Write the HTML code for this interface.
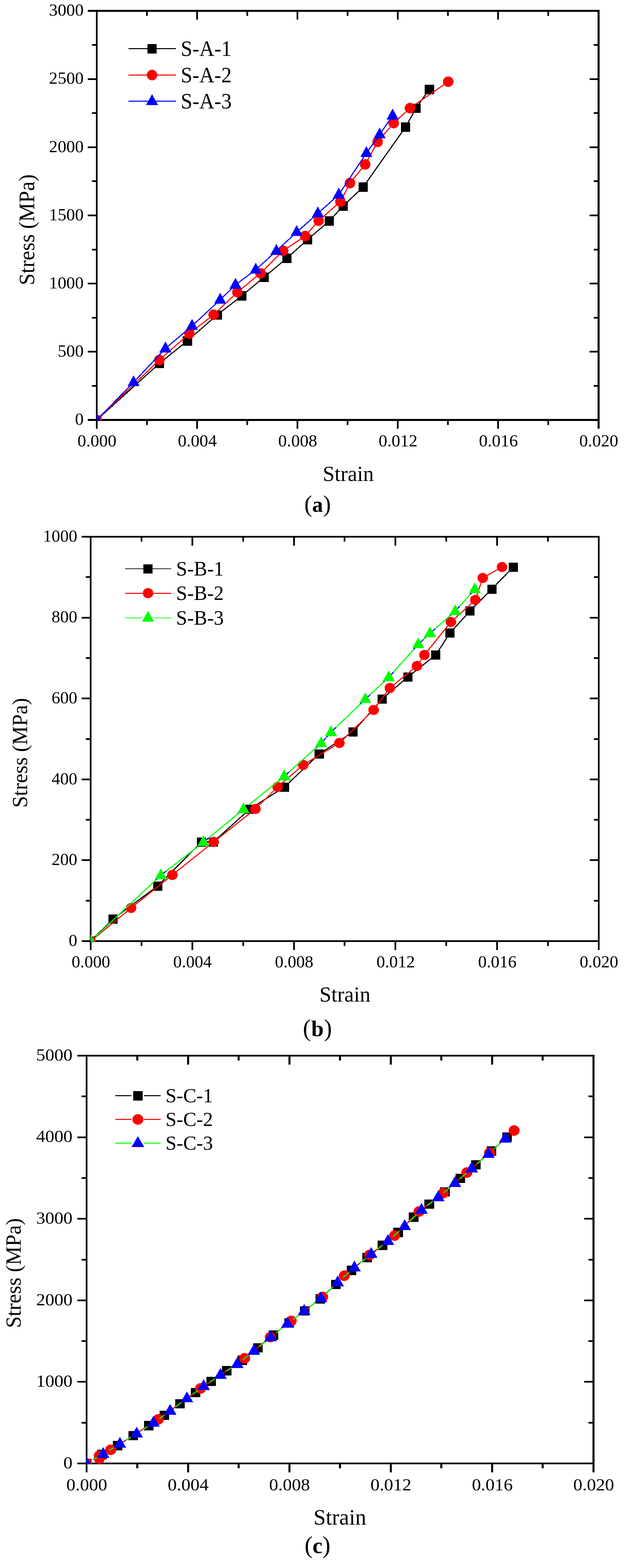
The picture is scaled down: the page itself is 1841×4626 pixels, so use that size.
<!DOCTYPE html>
<html lang="en">
<head>
<meta charset="utf-8">
<title>Stress-strain curves</title>
<style>
html,body{margin:0;padding:0;background:#fff;}
body{width:1841px;height:4626px;overflow:hidden;}
svg{display:block;font-family:"Liberation Serif", "DejaVu Serif", serif;}
text{fill:#000;}
</style>
</head>
<body>
<svg width="1841" height="4626" viewBox="0 0 1841 4626">
<rect width="1841" height="4626" fill="#fff"/>
<g id="chart-a">
<g fill="#000">
<path shape-rendering="crispEdges" d="M283 29H1769V1242H283ZM288 35V1236H1763V35Z"/>
<rect x="283" y="1236" width="5" height="29" rx="1.3"/>
<rect x="431" y="1236" width="5" height="18" rx="1.3"/>
<rect x="431" y="29" width="5" height="18" rx="1.3"/>
<rect x="579" y="1236" width="5" height="29" rx="1.3"/>
<rect x="579" y="29" width="5" height="29" rx="1.3"/>
<rect x="727" y="1236" width="5" height="18" rx="1.3"/>
<rect x="727" y="29" width="5" height="18" rx="1.3"/>
<rect x="875" y="1236" width="5" height="29" rx="1.3"/>
<rect x="875" y="29" width="5" height="29" rx="1.3"/>
<rect x="1023" y="1236" width="5" height="18" rx="1.3"/>
<rect x="1023" y="29" width="5" height="18" rx="1.3"/>
<rect x="1171" y="1236" width="5" height="29" rx="1.3"/>
<rect x="1171" y="29" width="5" height="29" rx="1.3"/>
<rect x="1319" y="1236" width="5" height="18" rx="1.3"/>
<rect x="1319" y="29" width="5" height="18" rx="1.3"/>
<rect x="1467" y="1236" width="5" height="29" rx="1.3"/>
<rect x="1467" y="29" width="5" height="29" rx="1.3"/>
<rect x="1615" y="1236" width="5" height="18" rx="1.3"/>
<rect x="1615" y="29" width="5" height="18" rx="1.3"/>
<rect x="1763" y="1236" width="6" height="29" rx="1.3"/>
<rect x="258.9" y="1236" width="29.1" height="6" rx="1.3"/>
<rect x="271.3" y="1136" width="16.7" height="5" rx="1.3"/>
<rect x="1751.8" y="1136" width="17.2" height="5" rx="1.3"/>
<rect x="258.9" y="1035" width="29.1" height="5" rx="1.3"/>
<rect x="1739.4" y="1035" width="29.6" height="5" rx="1.3"/>
<rect x="271.3" y="935" width="16.7" height="5" rx="1.3"/>
<rect x="1751.8" y="935" width="17.2" height="5" rx="1.3"/>
<rect x="258.9" y="834" width="29.1" height="5" rx="1.3"/>
<rect x="1739.4" y="834" width="29.6" height="5" rx="1.3"/>
<rect x="271.3" y="734" width="16.7" height="5" rx="1.3"/>
<rect x="1751.8" y="734" width="17.2" height="5" rx="1.3"/>
<rect x="258.9" y="633" width="29.1" height="5" rx="1.3"/>
<rect x="1739.4" y="633" width="29.6" height="5" rx="1.3"/>
<rect x="271.3" y="532" width="16.7" height="5" rx="1.3"/>
<rect x="1751.8" y="532" width="17.2" height="5" rx="1.3"/>
<rect x="258.9" y="432" width="29.1" height="5" rx="1.3"/>
<rect x="1739.4" y="432" width="29.6" height="5" rx="1.3"/>
<rect x="271.3" y="331" width="16.7" height="5" rx="1.3"/>
<rect x="1751.8" y="331" width="17.2" height="5" rx="1.3"/>
<rect x="258.9" y="231" width="29.1" height="5" rx="1.3"/>
<rect x="1739.4" y="231" width="29.6" height="5" rx="1.3"/>
<rect x="271.3" y="130" width="16.7" height="5" rx="1.3"/>
<rect x="1751.8" y="130" width="17.2" height="5" rx="1.3"/>
<rect x="258.9" y="29" width="29.1" height="6" rx="1.3"/>
</g>
<clipPath id="clip-a"><rect x="285" y="32" width="1481" height="1208.2"/></clipPath>
<g clip-path="url(#clip-a)" shape-rendering="crispEdges">
<polyline points="285.5,1239 470.2,1072 552.9,1005.4 640.9,929 713.6,872.5 779.3,817.5 846.4,761.9 907.8,706.4 971.8,651.8 1012.7,607.3 1071.7,551.5 1196.7,374.6 1227.5,319 1266.9,263.2" fill="none" stroke="#000" stroke-width="3.3" stroke-linejoin="round"/>
<rect x="271.9" y="1225.6" width="27.1" height="27.7" fill="#000"/>
<rect x="456.6" y="1058.6" width="27.1" height="27.7" fill="#000"/>
<rect x="539.4" y="991.9" width="27.1" height="27.7" fill="#000"/>
<rect x="627.4" y="915.5" width="27.1" height="27.7" fill="#000"/>
<rect x="700.1" y="859" width="27.1" height="27.7" fill="#000"/>
<rect x="765.8" y="804" width="27.1" height="27.7" fill="#000"/>
<rect x="832.9" y="748.4" width="27.1" height="27.7" fill="#000"/>
<rect x="894.2" y="692.9" width="27.1" height="27.7" fill="#000"/>
<rect x="958.2" y="638.3" width="27.1" height="27.7" fill="#000"/>
<rect x="999.2" y="593.8" width="27.1" height="27.7" fill="#000"/>
<rect x="1058.2" y="538" width="27.1" height="27.7" fill="#000"/>
<rect x="1183.2" y="361.1" width="27.1" height="27.7" fill="#000"/>
<rect x="1214" y="305.5" width="27.1" height="27.7" fill="#000"/>
<rect x="1253.4" y="249.8" width="27.1" height="27.7" fill="#000"/>
<polyline points="285.5,1239 470.2,1062.1 558.8,984.1 630.4,928.3 700.3,862 768.6,806.1 835.3,739.8 900.3,696.5 940.1,651 1004.1,595.2 1032.6,540.1 1077.4,485 1114,418.5 1161.6,363.1 1209.6,319 1322.3,241" fill="none" stroke="#f00" stroke-width="3.3" stroke-linejoin="round"/>
<ellipse cx="285.5" cy="1239" rx="15.5" ry="15.6" fill="#f00"/>
<ellipse cx="470.2" cy="1062.1" rx="15.5" ry="15.6" fill="#f00"/>
<ellipse cx="558.8" cy="984.1" rx="15.5" ry="15.6" fill="#f00"/>
<ellipse cx="630.4" cy="928.3" rx="15.5" ry="15.6" fill="#f00"/>
<ellipse cx="700.3" cy="862" rx="15.5" ry="15.6" fill="#f00"/>
<ellipse cx="768.6" cy="806.1" rx="15.5" ry="15.6" fill="#f00"/>
<ellipse cx="835.3" cy="739.8" rx="15.5" ry="15.6" fill="#f00"/>
<ellipse cx="900.3" cy="696.5" rx="15.5" ry="15.6" fill="#f00"/>
<ellipse cx="940.1" cy="651" rx="15.5" ry="15.6" fill="#f00"/>
<ellipse cx="1004.1" cy="595.2" rx="15.5" ry="15.6" fill="#f00"/>
<ellipse cx="1032.6" cy="540.1" rx="15.5" ry="15.6" fill="#f00"/>
<ellipse cx="1077.4" cy="485" rx="15.5" ry="15.6" fill="#f00"/>
<ellipse cx="1114" cy="418.5" rx="15.5" ry="15.6" fill="#f00"/>
<ellipse cx="1161.6" cy="363.1" rx="15.5" ry="15.6" fill="#f00"/>
<ellipse cx="1209.6" cy="319" rx="15.5" ry="15.6" fill="#f00"/>
<ellipse cx="1322.3" cy="241" rx="15.5" ry="15.6" fill="#f00"/>
<polyline points="285.5,1239 394.1,1127.9 488.1,1028 566.6,961.7 649.6,884.4 694.8,840.3 754.5,795.8 815.4,740.4 875.4,684.8 937.8,629.7 999.5,574.3 1081,451.7 1120.2,396.9 1158.4,341.1" fill="none" stroke="#00f" stroke-width="3.3" stroke-linejoin="round"/>
<polygon points="285.5,1218.3 303.3,1250.5 267.7,1250.5" fill="#00f"/>
<polygon points="394.1,1107.2 411.9,1139.4 376.3,1139.4" fill="#00f"/>
<polygon points="488.1,1007.3 505.9,1039.5 470.3,1039.5" fill="#00f"/>
<polygon points="566.6,941 584.4,973.2 548.8,973.2" fill="#00f"/>
<polygon points="649.6,863.7 667.4,895.9 631.8,895.9" fill="#00f"/>
<polygon points="694.8,819.6 712.6,851.8 677,851.8" fill="#00f"/>
<polygon points="754.5,775.1 772.3,807.3 736.7,807.3" fill="#00f"/>
<polygon points="815.4,719.7 833.2,751.9 797.6,751.9" fill="#00f"/>
<polygon points="875.4,664.1 893.2,696.3 857.6,696.3" fill="#00f"/>
<polygon points="937.8,609 955.6,641.2 920,641.2" fill="#00f"/>
<polygon points="999.5,553.6 1017.3,585.8 981.7,585.8" fill="#00f"/>
<polygon points="1081,431 1098.8,463.2 1063.2,463.2" fill="#00f"/>
<polygon points="1120.2,376.2 1138,408.4 1102.4,408.4" fill="#00f"/>
<polygon points="1158.4,320.4 1176.2,352.6 1140.6,352.6" fill="#00f"/>
</g>
<text transform="translate(286.1 1317) scale(1.0120 1)" font-size="50.50" text-anchor="middle">0.000</text>
<text transform="translate(582.2 1317) scale(1.0120 1)" font-size="50.50" text-anchor="middle">0.004</text>
<text transform="translate(878.3 1317) scale(1.0120 1)" font-size="50.50" text-anchor="middle">0.008</text>
<text transform="translate(1174.4 1317) scale(1.0120 1)" font-size="50.50" text-anchor="middle">0.012</text>
<text transform="translate(1470.5 1317) scale(1.0120 1)" font-size="50.50" text-anchor="middle">0.016</text>
<text transform="translate(1766.6 1317) scale(1.0120 1)" font-size="50.50" text-anchor="middle">0.020</text>
<text transform="translate(246.8 1253.2) scale(1.0120 1)" font-size="50.50" text-anchor="end">0</text>
<text transform="translate(246.8 1052) scale(1.0120 1)" font-size="50.50" text-anchor="end">500</text>
<text transform="translate(246.8 850.9) scale(1.0120 1)" font-size="50.50" text-anchor="end">1000</text>
<text transform="translate(246.8 649.7) scale(1.0120 1)" font-size="50.50" text-anchor="end">1500</text>
<text transform="translate(246.8 448.5) scale(1.0120 1)" font-size="50.50" text-anchor="end">2000</text>
<text transform="translate(246.8 247.4) scale(1.0120 1)" font-size="50.50" text-anchor="end">2500</text>
<text transform="translate(246.8 46.2) scale(1.0120 1)" font-size="50.50" text-anchor="end">3000</text>
<text transform="translate(1027.4 1419.4)" font-size="63.00" text-anchor="middle">Strain</text>
<text transform="translate(101 677.9) rotate(-90) scale(0.9720 1)" font-size="64.80" text-anchor="middle">Stress (MPa)</text>
<text y="1510.3" font-size="70"><tspan x="897.8">(</tspan><tspan x="937.1" text-anchor="middle" font-weight="bold" font-size="64">a</tspan><tspan x="976.4" text-anchor="end">)</tspan></text>
<g shape-rendering="crispEdges">
<path d="M378.5 143.5H518.5" stroke="#000" stroke-width="3.3" fill="none"/>
<rect x="435.1" y="130.1" width="27.1" height="27.7" fill="#000"/>
<text transform="translate(533.2 164.5) scale(0.9350 1)" font-size="65.80">S-A-1</text>
<path d="M378.5 221.5H518.5" stroke="#f00" stroke-width="3.3" fill="none"/>
<ellipse cx="448.6" cy="221.5" rx="15.5" ry="15.6" fill="#f00"/>
<text transform="translate(533.2 242.5) scale(0.9350 1)" font-size="65.80">S-A-2</text>
<path d="M378.5 298.5H518.5" stroke="#00f" stroke-width="3.3" fill="none"/>
<polygon points="448.6,277.8 466.4,310 430.8,310" fill="#00f"/>
<text transform="translate(533.2 319.5) scale(0.9350 1)" font-size="65.80">S-A-3</text>
</g>
</g>
<g id="chart-b">
<g fill="#000">
<path shape-rendering="crispEdges" d="M265 1581H1769V2779H265ZM270 1586V2774H1764V1586Z"/>
<rect x="265" y="2774" width="5" height="29" rx="1.3"/>
<rect x="415" y="2774" width="5" height="17" rx="1.3"/>
<rect x="415" y="1581" width="5" height="17" rx="1.3"/>
<rect x="565" y="2774" width="5" height="29" rx="1.3"/>
<rect x="565" y="1581" width="5" height="29" rx="1.3"/>
<rect x="715" y="2774" width="5" height="17" rx="1.3"/>
<rect x="715" y="1581" width="5" height="17" rx="1.3"/>
<rect x="865" y="2774" width="5" height="29" rx="1.3"/>
<rect x="865" y="1581" width="5" height="29" rx="1.3"/>
<rect x="1014" y="2774" width="5" height="17" rx="1.3"/>
<rect x="1014" y="1581" width="5" height="17" rx="1.3"/>
<rect x="1164" y="2774" width="5" height="29" rx="1.3"/>
<rect x="1164" y="1581" width="5" height="29" rx="1.3"/>
<rect x="1314" y="2774" width="5" height="17" rx="1.3"/>
<rect x="1314" y="1581" width="5" height="17" rx="1.3"/>
<rect x="1464" y="2774" width="5" height="29" rx="1.3"/>
<rect x="1464" y="1581" width="5" height="29" rx="1.3"/>
<rect x="1614" y="2774" width="5" height="17" rx="1.3"/>
<rect x="1614" y="1581" width="5" height="17" rx="1.3"/>
<rect x="1764" y="2774" width="5" height="29" rx="1.3"/>
<rect x="240.9" y="2774" width="29.1" height="5" rx="1.3"/>
<rect x="253" y="2655" width="17" height="5" rx="1.3"/>
<rect x="1752" y="2655" width="17" height="5" rx="1.3"/>
<rect x="240.9" y="2535" width="29.1" height="5" rx="1.3"/>
<rect x="1739.9" y="2535" width="29.1" height="5" rx="1.3"/>
<rect x="253" y="2416" width="17" height="5" rx="1.3"/>
<rect x="1752" y="2416" width="17" height="5" rx="1.3"/>
<rect x="240.9" y="2297" width="29.1" height="5" rx="1.3"/>
<rect x="1739.9" y="2297" width="29.1" height="5" rx="1.3"/>
<rect x="253" y="2178" width="17" height="5" rx="1.3"/>
<rect x="1752" y="2178" width="17" height="5" rx="1.3"/>
<rect x="240.9" y="2058" width="29.1" height="5" rx="1.3"/>
<rect x="1739.9" y="2058" width="29.1" height="5" rx="1.3"/>
<rect x="253" y="1939" width="17" height="5" rx="1.3"/>
<rect x="1752" y="1939" width="17" height="5" rx="1.3"/>
<rect x="240.9" y="1820" width="29.1" height="5" rx="1.3"/>
<rect x="1739.9" y="1820" width="29.1" height="5" rx="1.3"/>
<rect x="253" y="1700" width="17" height="5" rx="1.3"/>
<rect x="1752" y="1700" width="17" height="5" rx="1.3"/>
<rect x="240.9" y="1581" width="29.1" height="5" rx="1.3"/>
</g>
<clipPath id="clip-b"><rect x="267" y="1583.5" width="1499.5" height="1194.2"/></clipPath>
<g clip-path="url(#clip-b)" shape-rendering="crispEdges">
<polyline points="267.5,2776.5 474.6,2582.3 600,2484.9 718.4,2387.6 838.8,2290.2 947.5,2192.9 976.4,2160.4 1077.6,2063.1 1147.1,1998.2 1234,1900.8 1268.7,1868.4 1343,1803.5 1400.8,1738.6" fill="none" stroke="#00f" stroke-width="3.3" stroke-linejoin="round"/>
<polyline points="267.5,2776.5 333.6,2711.1 465.5,2613.8 594.5,2483.9 629.6,2483.9 737.4,2386.6 839.4,2321.7 941.9,2224.3 1041.4,2159.4 1127.6,2062.1 1203.3,1997.2 1285.7,1932.3 1327.6,1867.4 1386.7,1802.5 1451.1,1737.6 1514.5,1672.7" fill="none" stroke="#000" stroke-width="3.3" stroke-linejoin="round"/>
<rect x="253.9" y="2763.4" width="27.1" height="27" fill="#000"/>
<rect x="320.1" y="2698" width="27.1" height="27" fill="#000"/>
<rect x="451.9" y="2600.7" width="27.1" height="27" fill="#000"/>
<rect x="581" y="2470.8" width="27.1" height="27" fill="#000"/>
<rect x="616.1" y="2470.8" width="27.1" height="27" fill="#000"/>
<rect x="723.9" y="2373.5" width="27.1" height="27" fill="#000"/>
<rect x="825.9" y="2308.6" width="27.1" height="27" fill="#000"/>
<rect x="928.4" y="2211.2" width="27.1" height="27" fill="#000"/>
<rect x="1027.9" y="2146.3" width="27.1" height="27" fill="#000"/>
<rect x="1114" y="2049" width="27.1" height="27" fill="#000"/>
<rect x="1189.8" y="1984.1" width="27.1" height="27" fill="#000"/>
<rect x="1272.2" y="1919.2" width="27.1" height="27" fill="#000"/>
<rect x="1314" y="1854.3" width="27.1" height="27" fill="#000"/>
<rect x="1373.2" y="1789.4" width="27.1" height="27" fill="#000"/>
<rect x="1437.5" y="1724.5" width="27.1" height="27" fill="#000"/>
<rect x="1501" y="1659.6" width="27.1" height="27" fill="#000"/>
<polyline points="267.5,2776.5 386.8,2678.7 508.6,2581.3 630.3,2483.9 753.6,2386.6 819,2321.7 894.6,2256.8 1001.4,2191.9 1102.3,2094.6 1150.2,2029.7 1230.2,1964.8 1252.1,1932.3 1330.4,1834.9 1402.3,1770 1424.2,1705.1 1481.2,1672.7" fill="none" stroke="#f00" stroke-width="3.3" stroke-linejoin="round"/>
<ellipse cx="267.5" cy="2776.5" rx="15.5" ry="14.9" fill="#f00"/>
<ellipse cx="386.8" cy="2678.7" rx="15.5" ry="14.9" fill="#f00"/>
<ellipse cx="508.6" cy="2581.3" rx="15.5" ry="14.9" fill="#f00"/>
<ellipse cx="630.3" cy="2483.9" rx="15.5" ry="14.9" fill="#f00"/>
<ellipse cx="753.6" cy="2386.6" rx="15.5" ry="14.9" fill="#f00"/>
<ellipse cx="819" cy="2321.7" rx="15.5" ry="14.9" fill="#f00"/>
<ellipse cx="894.6" cy="2256.8" rx="15.5" ry="14.9" fill="#f00"/>
<ellipse cx="1001.4" cy="2191.9" rx="15.5" ry="14.9" fill="#f00"/>
<ellipse cx="1102.3" cy="2094.6" rx="15.5" ry="14.9" fill="#f00"/>
<ellipse cx="1150.2" cy="2029.7" rx="15.5" ry="14.9" fill="#f00"/>
<ellipse cx="1230.2" cy="1964.8" rx="15.5" ry="14.9" fill="#f00"/>
<ellipse cx="1252.1" cy="1932.3" rx="15.5" ry="14.9" fill="#f00"/>
<ellipse cx="1330.4" cy="1834.9" rx="15.5" ry="14.9" fill="#f00"/>
<ellipse cx="1402.3" cy="1770" rx="15.5" ry="14.9" fill="#f00"/>
<ellipse cx="1424.2" cy="1705.1" rx="15.5" ry="14.9" fill="#f00"/>
<ellipse cx="1481.2" cy="1672.7" rx="15.5" ry="14.9" fill="#f00"/>
<path d="M282.1 2762.8L460 2596M490.4 2570L584.2 2497.2M615.4 2472.2L703 2400.3M734 2375L823.2 2302.8M853.7 2276.9L932.6 2206.2M960.8 2178L963.1 2175.4M990.8 2146.6L1063.2 2077M1092.2 2049.4L1132.5 2011.9M1160.4 1983.3L1220.7 1915.8M1248.6 1887.2L1254.1 1882.1M1283.8 1855.2L1327.9 1816.7M1356.3 1788.6L1387.5 1753.5" fill="none" stroke="#0f0" stroke-width="3.3"/>
<polygon points="267.5,2756.2 285.3,2787.8 249.7,2787.8" fill="#0f0"/>
<polygon points="474.6,2562 492.4,2593.6 456.8,2593.6" fill="#0f0"/>
<polygon points="600,2464.6 617.8,2496.2 582.2,2496.2" fill="#0f0"/>
<polygon points="718.4,2367.3 736.2,2398.9 700.6,2398.9" fill="#0f0"/>
<polygon points="838.8,2269.9 856.6,2301.5 821,2301.5" fill="#0f0"/>
<polygon points="947.5,2172.6 965.3,2204.2 929.7,2204.2" fill="#0f0"/>
<polygon points="976.4,2140.1 994.2,2171.7 958.6,2171.7" fill="#0f0"/>
<polygon points="1077.6,2042.8 1095.4,2074.4 1059.8,2074.4" fill="#0f0"/>
<polygon points="1147.1,1977.9 1164.9,2009.5 1129.3,2009.5" fill="#0f0"/>
<polygon points="1234,1880.5 1251.8,1912.1 1216.2,1912.1" fill="#0f0"/>
<polygon points="1268.7,1848.1 1286.5,1879.7 1250.9,1879.7" fill="#0f0"/>
<polygon points="1343,1783.2 1360.8,1814.8 1325.2,1814.8" fill="#0f0"/>
<polygon points="1400.8,1718.3 1418.6,1749.9 1383,1749.9" fill="#0f0"/>
</g>
<text transform="translate(268.1 2854.3)" font-size="50.50" text-anchor="middle">0.000</text>
<text transform="translate(567.9 2854.3)" font-size="50.50" text-anchor="middle">0.004</text>
<text transform="translate(867.7 2854.3)" font-size="50.50" text-anchor="middle">0.008</text>
<text transform="translate(1167.5 2854.3)" font-size="50.50" text-anchor="middle">0.012</text>
<text transform="translate(1467.3 2854.3)" font-size="50.50" text-anchor="middle">0.016</text>
<text transform="translate(1767.1 2854.3)" font-size="50.50" text-anchor="middle">0.020</text>
<text transform="translate(228.1 2790.7)" font-size="50.50" text-anchor="end">0</text>
<text transform="translate(228.1 2552.1)" font-size="50.50" text-anchor="end">200</text>
<text transform="translate(228.1 2313.5)" font-size="50.50" text-anchor="end">400</text>
<text transform="translate(228.1 2074.9)" font-size="50.50" text-anchor="end">600</text>
<text transform="translate(228.1 1836.3)" font-size="50.50" text-anchor="end">800</text>
<text transform="translate(228.1 1597.7)" font-size="50.50" text-anchor="end">1000</text>
<text transform="translate(1017.8 2955.3) scale(0.9850 1)" font-size="64.00" text-anchor="middle">Strain</text>
<text transform="translate(80.2 2221.1) rotate(-90) scale(0.9840 1)" font-size="63.40" text-anchor="middle">Stress (MPa)</text>
<text y="3057" font-size="71"><tspan x="893.5">(</tspan><tspan x="936.5" text-anchor="middle" font-weight="bold" font-size="66">b</tspan><tspan x="979.5" text-anchor="end">)</tspan></text>
<g shape-rendering="crispEdges">
<path d="M369.3 1677.8H504.7" stroke="#000" stroke-width="2" fill="none"/>
<rect x="423.2" y="1664.7" width="27.1" height="27" fill="#000"/>
<text transform="translate(519.6 1698) scale(0.9520 1)" font-size="61.80">S-B-1</text>
<path d="M369.3 1750H504.7" stroke="#f00" stroke-width="3" fill="none"/>
<ellipse cx="436.8" cy="1750" rx="15.5" ry="14.9" fill="#f00"/>
<text transform="translate(519.6 1770.2) scale(0.9520 1)" font-size="61.80">S-B-2</text>
<path d="M369.3 1822.5H419.3M454.3 1822.5H504.7" stroke="#0f0" stroke-width="2" fill="none"/>
<polygon points="436.8,1802.2 454.6,1833.8 419,1833.8" fill="#0f0"/>
<text transform="translate(519.6 1842.7) scale(0.9520 1)" font-size="61.80">S-B-3</text>
</g>
</g>
<g id="chart-c">
<g fill="#000">
<path shape-rendering="crispEdges" d="M253 3112H1754V4320H253ZM258 3117V4315H1748V3117Z"/>
<rect x="253" y="4315" width="5" height="28.9" rx="1.3"/>
<rect x="402" y="4315" width="6" height="17" rx="1.3"/>
<rect x="402" y="3112" width="6" height="17" rx="1.3"/>
<rect x="552" y="4315" width="6" height="28.9" rx="1.3"/>
<rect x="552" y="3112" width="6" height="28.9" rx="1.3"/>
<rect x="701" y="4315" width="6" height="17" rx="1.3"/>
<rect x="701" y="3112" width="6" height="17" rx="1.3"/>
<rect x="851" y="4315" width="6" height="28.9" rx="1.3"/>
<rect x="851" y="3112" width="6" height="28.9" rx="1.3"/>
<rect x="1000" y="4315" width="6" height="17" rx="1.3"/>
<rect x="1000" y="3112" width="6" height="17" rx="1.3"/>
<rect x="1150" y="4315" width="6" height="28.9" rx="1.3"/>
<rect x="1150" y="3112" width="6" height="28.9" rx="1.3"/>
<rect x="1299" y="4315" width="6" height="17" rx="1.3"/>
<rect x="1299" y="3112" width="6" height="17" rx="1.3"/>
<rect x="1449" y="4315" width="6" height="28.9" rx="1.3"/>
<rect x="1449" y="3112" width="6" height="28.9" rx="1.3"/>
<rect x="1598" y="4315" width="6" height="17" rx="1.3"/>
<rect x="1598" y="3112" width="6" height="17" rx="1.3"/>
<rect x="1748" y="4315" width="6" height="28.9" rx="1.3"/>
<rect x="227.9" y="4315" width="30.1" height="5" rx="1.3"/>
<rect x="240.5" y="4195" width="17.5" height="5" rx="1.3"/>
<rect x="1736" y="4195" width="18" height="5" rx="1.3"/>
<rect x="227.9" y="4074" width="30.1" height="5" rx="1.3"/>
<rect x="1723.4" y="4074" width="30.6" height="5" rx="1.3"/>
<rect x="240.5" y="3954" width="17.5" height="5" rx="1.3"/>
<rect x="1736" y="3954" width="18" height="5" rx="1.3"/>
<rect x="227.9" y="3834" width="30.1" height="5" rx="1.3"/>
<rect x="1723.4" y="3834" width="30.6" height="5" rx="1.3"/>
<rect x="240.5" y="3714" width="17.5" height="5" rx="1.3"/>
<rect x="1736" y="3714" width="18" height="5" rx="1.3"/>
<rect x="227.9" y="3593" width="30.1" height="5" rx="1.3"/>
<rect x="1723.4" y="3593" width="30.6" height="5" rx="1.3"/>
<rect x="240.5" y="3473" width="17.5" height="5" rx="1.3"/>
<rect x="1736" y="3473" width="18" height="5" rx="1.3"/>
<rect x="227.9" y="3353" width="30.1" height="5" rx="1.3"/>
<rect x="1723.4" y="3353" width="30.6" height="5" rx="1.3"/>
<rect x="240.5" y="3232" width="17.5" height="5" rx="1.3"/>
<rect x="1736" y="3232" width="18" height="5" rx="1.3"/>
<rect x="227.9" y="3112" width="30.1" height="5" rx="1.3"/>
</g>
<clipPath id="clip-c"><rect x="255" y="3114.5" width="1496" height="1204.2"/></clipPath>
<g clip-path="url(#clip-c)" shape-rendering="crispEdges">
<path d="M273.6 4306.9L283.1 4301.3M319.5 4280.4L328.9 4275M364.9 4253.4L375.5 4246.6M410.8 4223.8L421.5 4216.9M456.6 4193.8L467.6 4186.4M502.1 4162.4L514.1 4153.6M548.1 4128.9L560 4120.3M594 4095.7L606 4087.1M640.4 4063L651.6 4055.4M686.4 4031.9L697.5 4024.4M731.3 3999.6L744.4 3989.3M777.1 3962.9L790.6 3951.8M823.3 3925.5L836.3 3915.1M869.5 3889.3L882.1 3879.7M915.4 3854.1L928 3844.4M960.1 3817.3L975.3 3803.1M1006.3 3774.8L1021 3761.6M1052.8 3734.2L1066.4 3722.8M1099.1 3696.5L1112 3686.5M1144.7 3660.2L1158.3 3649.1M1189.5 3621L1205.5 3605.2M1236.6 3577L1250.3 3565.5M1283 3539.1L1295.8 3529M1328.2 3502.3L1342.5 3489.9M1374.2 3462.3L1388.5 3449.8M1420 3422.1L1434.5 3409.3M1465.9 3381.3L1480.6 3368.1" fill="none" stroke="#000" stroke-width="3.3"/>
<rect x="241.4" y="4304.2" width="28.2" height="27.4" fill="#000"/>
<rect x="287.2" y="4277.4" width="28.2" height="27.4" fill="#000"/>
<rect x="333.1" y="4251.4" width="28.2" height="27.4" fill="#000"/>
<rect x="379.1" y="4222" width="28.2" height="27.4" fill="#000"/>
<rect x="425" y="4192.1" width="28.2" height="27.4" fill="#000"/>
<rect x="471" y="4161.5" width="28.2" height="27.4" fill="#000"/>
<rect x="517" y="4127.9" width="28.2" height="27.4" fill="#000"/>
<rect x="562.9" y="4094.7" width="28.2" height="27.4" fill="#000"/>
<rect x="608.9" y="4061.5" width="28.2" height="27.4" fill="#000"/>
<rect x="654.8" y="4030.3" width="28.2" height="27.4" fill="#000"/>
<rect x="700.8" y="3999.4" width="28.2" height="27.4" fill="#000"/>
<rect x="746.8" y="3962.9" width="28.2" height="27.4" fill="#000"/>
<rect x="792.7" y="3925.2" width="28.2" height="27.4" fill="#000"/>
<rect x="838.7" y="3888.8" width="28.2" height="27.4" fill="#000"/>
<rect x="884.6" y="3853.6" width="28.2" height="27.4" fill="#000"/>
<rect x="930.6" y="3818.3" width="28.2" height="27.4" fill="#000"/>
<rect x="976.6" y="3775.5" width="28.2" height="27.4" fill="#000"/>
<rect x="1022.5" y="3734.3" width="28.2" height="27.4" fill="#000"/>
<rect x="1068.5" y="3696.1" width="28.2" height="27.4" fill="#000"/>
<rect x="1114.4" y="3660.3" width="28.2" height="27.4" fill="#000"/>
<rect x="1160.4" y="3622.4" width="28.2" height="27.4" fill="#000"/>
<rect x="1206.4" y="3577.2" width="28.2" height="27.4" fill="#000"/>
<rect x="1252.3" y="3538.7" width="28.2" height="27.4" fill="#000"/>
<rect x="1298.3" y="3502.8" width="28.2" height="27.4" fill="#000"/>
<rect x="1344.2" y="3462.8" width="28.2" height="27.4" fill="#000"/>
<rect x="1390.2" y="3422.7" width="28.2" height="27.4" fill="#000"/>
<rect x="1436.2" y="3382.1" width="28.2" height="27.4" fill="#000"/>
<rect x="1482.1" y="3340.7" width="28.2" height="27.4" fill="#000"/>
<path d="M344.6 4266L449.3 4198.9M483.9 4175.2L574.6 4108.8M608.8 4084.5L704.4 4019.3M737.9 3994L781.3 3958.3M814.1 3932L842.7 3909.9M876 3884.2L935.3 3838.9M967 3811.4L1001 3778.4M1032.2 3750.4L1074.7 3715.6M1107.5 3689.4L1147.6 3658.1M1179.2 3630.5L1221.4 3589M1253.1 3561.6L1290.8 3532.7M1323.3 3506.2L1361.6 3473M1393.2 3445.4L1428.7 3414.6M1460.1 3386.7L1501.3 3349.4" fill="none" stroke="#f00" stroke-width="3.3"/>
<ellipse cx="255.5" cy="4317.5" rx="16.2" ry="15.6" fill="#f00"/>
<ellipse cx="293.1" cy="4303.3" rx="16.2" ry="15.6" fill="#f00"/>
<ellipse cx="293.1" cy="4294.7" rx="16.2" ry="15.6" fill="#f00"/>
<ellipse cx="326.9" cy="4277.3" rx="16.2" ry="15.6" fill="#f00"/>
<ellipse cx="467" cy="4187.6" rx="16.2" ry="15.6" fill="#f00"/>
<ellipse cx="591.5" cy="4096.4" rx="16.2" ry="15.6" fill="#f00"/>
<ellipse cx="721.7" cy="4007.4" rx="16.2" ry="15.6" fill="#f00"/>
<ellipse cx="797.5" cy="3944.9" rx="16.2" ry="15.6" fill="#f00"/>
<ellipse cx="859.3" cy="3897" rx="16.2" ry="15.6" fill="#f00"/>
<ellipse cx="952" cy="3826.1" rx="16.2" ry="15.6" fill="#f00"/>
<ellipse cx="1016" cy="3763.7" rx="16.2" ry="15.6" fill="#f00"/>
<ellipse cx="1090.9" cy="3702.3" rx="16.2" ry="15.6" fill="#f00"/>
<ellipse cx="1164.2" cy="3645.2" rx="16.2" ry="15.6" fill="#f00"/>
<ellipse cx="1236.4" cy="3574.3" rx="16.2" ry="15.6" fill="#f00"/>
<ellipse cx="1307.5" cy="3520" rx="16.2" ry="15.6" fill="#f00"/>
<ellipse cx="1377.4" cy="3459.2" rx="16.2" ry="15.6" fill="#f00"/>
<ellipse cx="1444.5" cy="3400.8" rx="16.2" ry="15.6" fill="#f00"/>
<ellipse cx="1516.9" cy="3335.3" rx="16.2" ry="15.6" fill="#f00"/>
<path d="M273.8 4307.1L286.2 4300.1M322.4 4278.8L335.9 4270.7M371.8 4248.9L385.3 4240.7M420.9 4218.3L435.1 4209.1M469.8 4185.5L484.9 4174.8M518.9 4150.1L534.7 4138.4M568.5 4113.4L584 4102.1M618.4 4078L632.9 4068.3M668 4045.2L682.2 4035.9M716.3 4011.6L732.7 3998.7M765.5 3972.6L782.3 3959M814.9 3932.5L831.8 3918.6M864.8 3892.6L880.7 3880.6M914.2 3855.3L930.1 3843.3M962.1 3816.2L981.1 3798.1M1012 3769.6L1030 3753.6M1062.1 3726.4L1078.8 3712.9M1111.8 3686.9L1127.9 3674.4M1160.2 3647.6L1178.3 3631.6M1209 3603L1228.4 3584.1M1260.2 3557L1276 3545.2M1308.8 3519.1L1326.2 3504.3M1358.1 3476.9L1375.8 3461.4M1407.5 3433.9L1425.2 3418.5M1456.6 3390.6L1475 3373.7" fill="none" stroke="#0f0" stroke-width="3.3"/>
<polygon points="255.5,4296.9 274.2,4328.9 236.8,4328.9" fill="#00f"/>
<polygon points="304.4,4269.1 323.1,4301.1 285.7,4301.1" fill="#00f"/>
<polygon points="353.8,4239.2 372.5,4271.2 335.1,4271.2" fill="#00f"/>
<polygon points="403.3,4209.2 422,4241.2 384.6,4241.2" fill="#00f"/>
<polygon points="452.7,4177 471.4,4209 434,4209" fill="#00f"/>
<polygon points="502.1,4142.1 520.8,4174.1 483.4,4174.1" fill="#00f"/>
<polygon points="551.5,4105.2 570.2,4137.2 532.8,4137.2" fill="#00f"/>
<polygon points="600.9,4069.1 619.6,4101.1 582.2,4101.1" fill="#00f"/>
<polygon points="650.4,4036 669.1,4068 631.7,4068" fill="#00f"/>
<polygon points="699.8,4003.9 718.5,4035.9 681.1,4035.9" fill="#00f"/>
<polygon points="749.2,3965.2 767.9,3997.2 730.5,3997.2" fill="#00f"/>
<polygon points="798.6,3925.2 817.3,3957.2 779.9,3957.2" fill="#00f"/>
<polygon points="848,3884.7 866.7,3916.7 829.3,3916.7" fill="#00f"/>
<polygon points="897.5,3847.3 916.2,3879.3 878.8,3879.3" fill="#00f"/>
<polygon points="946.9,3810.1 965.6,3842.1 928.2,3842.1" fill="#00f"/>
<polygon points="996.3,3763 1015,3795 977.6,3795" fill="#00f"/>
<polygon points="1045.7,3719 1064.4,3751 1027,3751" fill="#00f"/>
<polygon points="1095.1,3679.1 1113.8,3711.1 1076.4,3711.1" fill="#00f"/>
<polygon points="1144.6,3641 1163.3,3673 1125.9,3673" fill="#00f"/>
<polygon points="1194,3597 1212.7,3629 1175.3,3629" fill="#00f"/>
<polygon points="1243.4,3548.9 1262.1,3580.9 1224.7,3580.9" fill="#00f"/>
<polygon points="1292.8,3512.1 1311.5,3544.1 1274.1,3544.1" fill="#00f"/>
<polygon points="1342.2,3470.1 1360.9,3502.1 1323.5,3502.1" fill="#00f"/>
<polygon points="1391.7,3427 1410.4,3459 1373,3459" fill="#00f"/>
<polygon points="1441.1,3384.2 1459.8,3416.2 1422.4,3416.2" fill="#00f"/>
<polygon points="1490.5,3338.9 1509.2,3370.9 1471.8,3370.9" fill="#00f"/>
</g>
<text transform="translate(256.1 4397) scale(1.0620 1)" font-size="50.50" text-anchor="middle">0.000</text>
<text transform="translate(555.2 4397) scale(1.0620 1)" font-size="50.50" text-anchor="middle">0.004</text>
<text transform="translate(854.3 4397) scale(1.0620 1)" font-size="50.50" text-anchor="middle">0.008</text>
<text transform="translate(1153.4 4397) scale(1.0620 1)" font-size="50.50" text-anchor="middle">0.012</text>
<text transform="translate(1452.5 4397) scale(1.0620 1)" font-size="50.50" text-anchor="middle">0.016</text>
<text transform="translate(1751.6 4397) scale(1.0620 1)" font-size="50.50" text-anchor="middle">0.020</text>
<text transform="translate(213.9 4331.7) scale(1.0620 1)" font-size="50.50" text-anchor="end">0</text>
<text transform="translate(213.9 4091.1) scale(1.0620 1)" font-size="50.50" text-anchor="end">1000</text>
<text transform="translate(213.9 3850.5) scale(1.0620 1)" font-size="50.50" text-anchor="end">2000</text>
<text transform="translate(213.9 3609.9) scale(1.0620 1)" font-size="50.50" text-anchor="end">3000</text>
<text transform="translate(213.9 3369.3) scale(1.0620 1)" font-size="50.50" text-anchor="end">4000</text>
<text transform="translate(213.9 3128.7) scale(1.0620 1)" font-size="50.50" text-anchor="end">5000</text>
<text transform="translate(1002.8 4497.5) scale(1.0070 1)" font-size="64.60" text-anchor="middle">Strain</text>
<text transform="translate(61 3756) rotate(-90) scale(0.9910 1)" font-size="63.00" text-anchor="middle">Stress (MPa)</text>
<text y="4581.5" font-size="72"><tspan x="898.5">(</tspan><tspan x="936.7" text-anchor="middle" font-weight="bold" font-size="66">c</tspan><tspan x="974.9" text-anchor="end">)</tspan></text>
<g shape-rendering="crispEdges">
<path d="M340.4 3232.7H388.3M425.3 3232.7H473.9" stroke="#000" stroke-width="3" fill="none"/>
<rect x="392.7" y="3219.4" width="28.2" height="27.4" fill="#000"/>
<text transform="translate(488.2 3252.2) scale(0.9950 1)" font-size="59.00">S-C-1</text>
<path d="M340.4 3302.6H388.3M425.3 3302.6H473.9" stroke="#f00" stroke-width="3" fill="none"/>
<ellipse cx="406.8" cy="3302.6" rx="16.2" ry="15.6" fill="#f00"/>
<text transform="translate(488.2 3322.1) scale(0.9950 1)" font-size="59.00">S-C-2</text>
<path d="M340.4 3372.5H388.3M425.3 3372.5H473.9" stroke="#0f0" stroke-width="3" fill="none"/>
<polygon points="406.8,3351.9 425.5,3383.9 388.1,3383.9" fill="#00f"/>
<text transform="translate(488.2 3392) scale(0.9950 1)" font-size="59.00">S-C-3</text>
</g>
</g>
</svg>
</body>
</html>
